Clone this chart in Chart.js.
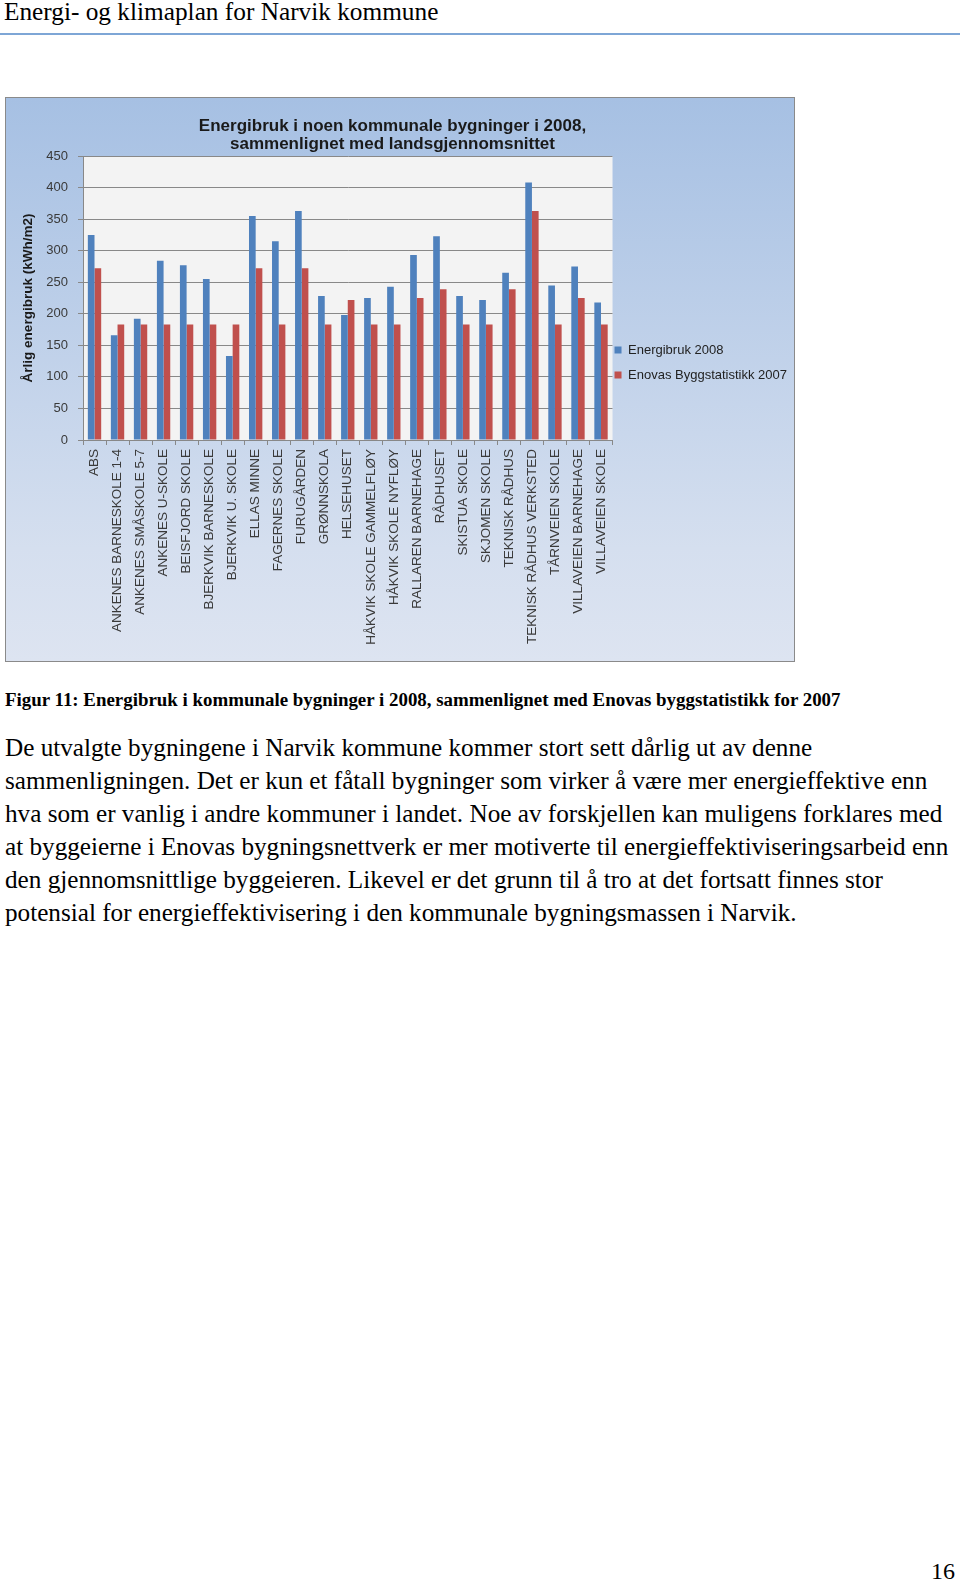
<!DOCTYPE html>
<html lang="no">
<head>
<meta charset="utf-8">
<title>Energi- og klimaplan for Narvik kommune</title>
<script src="https://cdn.jsdelivr.net/npm/chart.js@4.4.1/dist/chart.umd.min.js"></script>
<style>
  html, body { margin: 0; padding: 0; background: #fff; }
  body { width: 960px; height: 1584px; position: relative; overflow: hidden;
         font-family: "Liberation Serif", "Times New Roman", serif; color: #000; }
  .header { position: absolute; left: 4px; top: -4px; font-size: 25.3px; line-height: 30px; white-space: nowrap; }
  .header-rule { position: absolute; left: 0; top: 33px; width: 960px; height: 2px; background: #7ea6d6; }
  .chart-box { position: absolute; left: 5px; top: 97px; width: 790px; height: 565px; box-sizing: border-box;
               border: 1px solid #8a8a8a; background: linear-gradient(#a6c0e3, #d5dfef 80%, #dde4f1); }
  .chart-wrap { position: absolute; left: -22px; top: 97px; width: 829px; height: 565px; }
  .caption { position: absolute; left: 5px; top: 689px; font-weight: bold; font-size: 18.9px; line-height: 22px; white-space: nowrap; }
  .body-text { position: absolute; left: 5px; top: 732px; font-size: 25.2px; line-height: 32.9px; white-space: nowrap; }
  .page-no { position: absolute; right: 5px; top: 1557px; font-size: 24px; line-height: 28px; }
</style>
</head>
<body>
<div class="header">Energi- og klimaplan for Narvik kommune</div>
<div class="header-rule"></div>

<div class="chart-box"></div>
<div class="chart-wrap"><canvas id="energyChart" width="829" height="565"></canvas></div>

<div class="caption">Figur 11: Energibruk i kommunale bygninger i 2008, sammenlignet med Enovas byggstatistikk for 2007</div>
<div class="body-text">De utvalgte bygningene i Narvik kommune kommer stort sett dårlig ut av denne<br>sammenligningen. Det er kun et fåtall bygninger som virker å være mer energieffektive enn<br>hva som er vanlig i andre kommuner i landet. Noe av forskjellen kan muligens forklares med<br>at byggeierne i Enovas bygningsnettverk er mer motiverte til energieffektiviseringsarbeid enn<br>den gjennomsnittlige byggeieren. Likevel er det grunn til å tro at det fortsatt finnes stor<br>potensial for energieffektivisering i den kommunale bygningsmassen i Narvik.</div>

<div class="page-no">16</div>

<script>
// buildings, left to right
const categories = [
  'ABS', 'ANKENES BARNESKOLE 1-4', 'ANKENES SMÅSKOLE 5-7', 'ANKENES U-SKOLE', 'BEISFJORD SKOLE',
  'BJERKVIK BARNESKOLE', 'BJERKVIK U. SKOLE', 'ELLAS MINNE', 'FAGERNES SKOLE', 'FURUGÅRDEN',
  'GRØNNSKOLA', 'HELSEHUSET', 'HÅKVIK SKOLE GAMMELFLØY', 'HÅKVIK SKOLE NYFLØY', 'RALLAREN BARNEHAGE',
  'RÅDHUSET', 'SKISTUA SKOLE', 'SKJOMEN SKOLE', 'TEKNISK RÅDHUS', 'TEKNISK RÅDHUS VERKSTED',
  'TÅRNVEIEN SKOLE', 'VILLAVEIEN BARNEHAGE', 'VILLAVEIEN SKOLE'
];

// kWh/m2
const energibruk2008 = [325, 166, 192, 284, 277, 255, 133, 355, 315, 363, 228, 198, 225, 243, 293, 323, 228, 222, 265, 408, 245, 275, 218];
const enova2007 = [272, 183, 183, 183, 183, 183, 183, 272, 183, 272, 183, 222, 183, 183, 225, 239, 183, 183, 239, 363, 183, 225, 183];

const yMin = 0;
const yMax = 450;
const yStep = 50;

const chartTitle = ['Energibruk i noen kommunale bygninger i 2008,', 'sammenlignet med landsgjennomsnittet'];
const yTitle = 'Årlig energibruk (kWh/m2)';

const gridColor = '#888888';
const textColor = '#3a3a3a';

Chart.defaults.font.family = '"Liberation Sans", Arial, sans-serif';

// light grey plot area like the Excel chart
const plotFill = {
  id: 'plotFill',
  beforeDraw(chart) {
    const { ctx, chartArea: a } = chart;
    ctx.save();
    ctx.fillStyle = '#f3f3f3';
    ctx.fillRect(a.left, a.top, a.right - a.left, a.bottom - a.top);
    ctx.restore();
  }
};

// Excel puts the legend a bit higher and closer to the plot than Chart.js does
const legendNudge = {
  id: 'legendNudge',
  afterLayout(chart) {
    const lg = chart.legend;
    lg.left -= 10; lg.right -= 10;
    lg.top -= 16; lg.bottom -= 16;
  }
};

new Chart(document.getElementById('energyChart'), {
  type: 'bar',
  data: {
    labels: categories,
    datasets: [
      { label: 'Energibruk 2008', data: energibruk2008, backgroundColor: '#4f81bd', borderWidth: 0 },
      { label: 'Enovas Byggstatistikk 2007', data: enova2007, backgroundColor: '#c0504d', borderWidth: 0 }
    ]
  },
  options: {
    responsive: false,
    animation: false,
    devicePixelRatio: 1,
    layout: { padding: { top: 0, left: 0, right: 0, bottom: 2 } },
    datasets: { bar: { categoryPercentage: 0.58, barPercentage: 1.0 } },
    plugins: {
      title: {
        display: true,
        text: chartTitle,
        color: '#1a1a1a',
        font: { size: 17, weight: 'bold', lineHeight: 18 / 17 },
        padding: { top: 20, bottom: 3 }
      },
      legend: {
        position: 'right',
        align: 'center',
        labels: { boxWidth: 7, boxHeight: 7, padding: 12, color: '#222', font: { size: 13 } }
      },
      tooltip: { enabled: false }
    },
    scales: {
      x: {
        afterFit: s => { s.height = 220; },
        grid: { drawOnChartArea: false, tickLength: 5, color: gridColor },
        border: { color: gridColor },
        ticks: { autoSkip: false, maxRotation: 90, minRotation: 90, padding: 4, color: textColor, font: { size: 13.5 } }
      },
      y: {
        min: yMin,
        max: yMax,
        afterFit: s => { s.width = 105; },
        grid: { color: gridColor, tickLength: 5 },
        border: { color: gridColor },
        ticks: { stepSize: yStep, padding: 10, color: textColor, font: { size: 13 } },
        title: { display: true, text: yTitle, color: '#1a1a1a', font: { size: 13.5, weight: 'bold' }, padding: { top: 42, bottom: 0 } }
      }
    }
  },
  plugins: [plotFill, legendNudge]
});
</script>
</body>
</html>
